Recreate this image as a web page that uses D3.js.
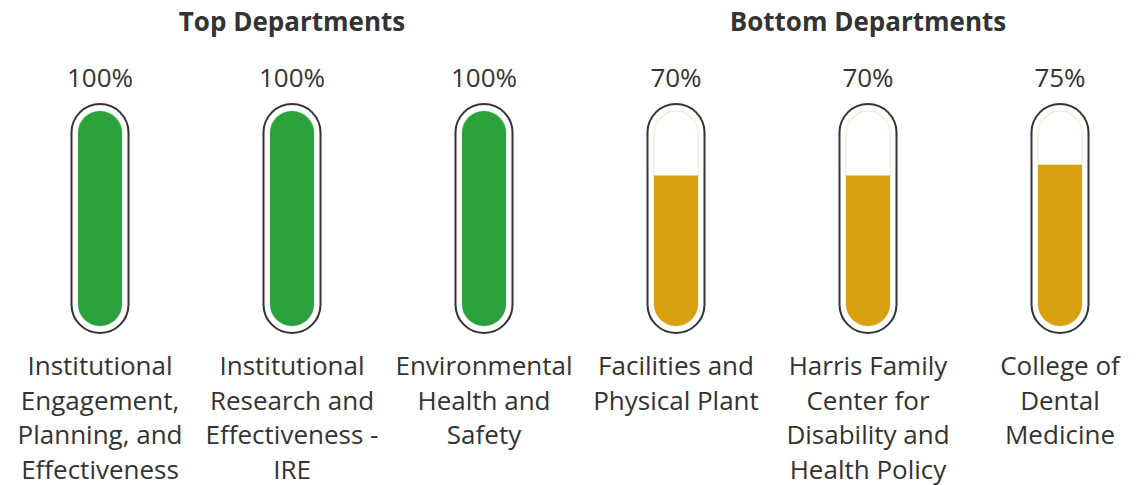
<!DOCTYPE html>
<html>
<head>
<meta charset="utf-8">
<script src="https://cdn.jsdelivr.net/npm/d3@7"></script>
<style>
  html, body { margin: 0; padding: 0; background: #fff; }
  svg { display: block; font-family: "Open Sans", "Noto Sans", sans-serif; }
</style>
</head>
<body>
<svg id="chart" width="1147" height="485"></svg>
<script>
// Department completion rates, grouped into top and bottom performers
const groupTitles = ["Top Departments", "Bottom Departments"];
const departments = [
  "Institutional Engagement, Planning, and Effectiveness",
  "Institutional Research and Effectiveness - IRE",
  "Environmental Health and Safety",
  "Facilities and Physical Plant",
  "Harris Family Center for Disability and Health Policy",
  "College of Dental Medicine"
];
const groups = ["top", "top", "top", "bottom", "bottom", "bottom"];
const rates = [100, 100, 100, 70, 70, 75];

const W = 1147, H = 485;
const svg = d3.select("#chart");

const x = d3.scaleBand().domain(departments).range([4, 1156]).paddingInner(0).paddingOuter(0);
const color = d3.scaleOrdinal().domain(["top", "bottom"]).range(["#2ca03a", "#d9a010"]);

// thermometer geometry
const outerW = 57, outerTop = 104, outerBottom = 333;
const innerW = 44, innerTop = 111, innerBottom = 326;
const y = d3.scaleLinear().domain([0, 100]).range([innerBottom, innerTop]);

// group titles centred over their three columns
const titleCenters = [
  (x(departments[0]) + x(departments[2]) + x.bandwidth()) / 2,
  (x(departments[3]) + x(departments[5]) + x.bandwidth()) / 2
];
svg.selectAll("text.group-title").data(groupTitles).join("text")
  .attr("class", "group-title")
  .attr("x", (d, i) => titleCenters[i])
  .attr("y", 31)
  .attr("text-anchor", "middle")
  .attr("font-size", 26)
  .attr("font-weight", 700)
  .attr("fill", "#333")
  .text(d => d);

const col = svg.selectAll("g.col").data(departments).join("g")
  .attr("class", "col")
  .attr("transform", d => `translate(${x(d) + x.bandwidth() / 2},0)`);

// value label
col.append("text")
  .attr("y", 87)
  .attr("text-anchor", "middle")
  .attr("font-size", 26)
  .attr("fill", "#333")
  .text((d, i) => rates[i] + "%");

// clip each fill to the inner capsule shape
const defs = svg.append("defs");
departments.forEach((d, i) => {
  defs.append("clipPath").attr("id", "cap" + i)
    .append("rect")
    .attr("x", -innerW / 2).attr("y", innerTop)
    .attr("width", innerW).attr("height", innerBottom - innerTop)
    .attr("rx", innerW / 2).attr("ry", innerW / 2);
});

// outer glass
col.append("rect")
  .attr("x", -outerW / 2).attr("y", outerTop)
  .attr("width", outerW).attr("height", outerBottom - outerTop)
  .attr("rx", outerW / 2).attr("ry", outerW / 2)
  .attr("fill", "#fff")
  .attr("stroke", "#333")
  .attr("stroke-width", 2);

// faint inner track
col.append("rect")
  .attr("x", -innerW / 2).attr("y", innerTop)
  .attr("width", innerW).attr("height", innerBottom - innerTop)
  .attr("rx", innerW / 2).attr("ry", innerW / 2)
  .attr("fill", "none")
  .attr("stroke", (d, i) => color(groups[i]))
  .attr("stroke-opacity", 0.25)
  .attr("stroke-width", 1);

// fill level
col.append("rect")
  .attr("clip-path", (d, i) => `url(#cap${i})`)
  .attr("x", -innerW / 2)
  .attr("y", (d, i) => y(rates[i]))
  .attr("width", innerW)
  .attr("height", (d, i) => innerBottom - y(rates[i]))
  .attr("fill", (d, i) => color(groups[i]));

// wrapped department names
const maxLine = 186, lineH = 34.7;
col.append("text")
  .attr("text-anchor", "middle")
  .attr("font-size", 26)
  .attr("fill", "#333")
  .each(function(d) {
    const t = d3.select(this);
    const words = d.split(/\s+/);
    let line = [], lineNo = 0;
    let ts = t.append("tspan").attr("x", 0).attr("y", 375);
    words.forEach(w => {
      line.push(w);
      ts.text(line.join(" "));
      if (ts.node().getComputedTextLength() > maxLine && line.length > 1) {
        line.pop();
        ts.text(line.join(" "));
        line = [w];
        lineNo++;
        ts = t.append("tspan").attr("x", 0).attr("y", 375 + lineNo * lineH).text(w);
      }
    });
  });
</script>
</body>
</html>
